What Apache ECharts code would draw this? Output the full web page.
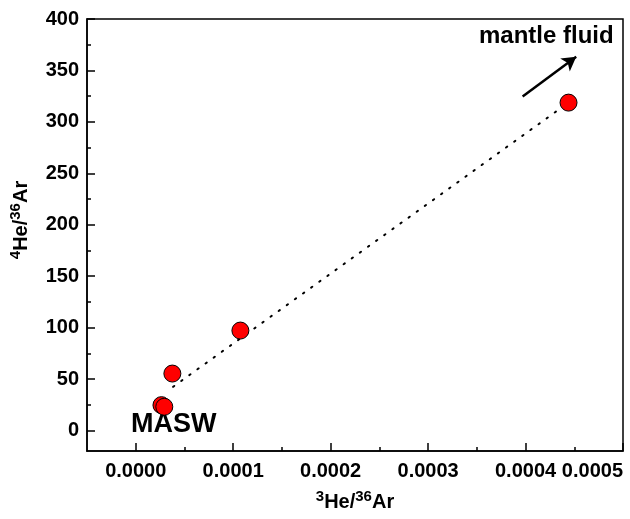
<!DOCTYPE html>
<html>
<head>
<meta charset="utf-8">
<script src="https://cdn.jsdelivr.net/npm/echarts@6/dist/echarts.min.js"></script>
<style>
  html, body { margin: 0; padding: 0; background: #fff; }
  #main { width: 630px; height: 519px; }
</style>
</head>
<body>
<div id="main"></div>
<script>
// 数据
var he3Ar36 = [0.0000264, 0.0000293, 0.0000376, 0.0001074, 0.0004441];
var he4Ar36 = [24.6, 23.0, 55.3, 97.1, 318.7];
// 趋势线端点
var trendX = [0.0000383, 0.0004441];
var trendY = [42.4, 318.7];
// 箭头 (mantle fluid)
var arrowFrom = [0.000397, 324.6];
var arrowTo = [0.000452, 363.4];
// 刻度
var xMajor = [0, 0.0001, 0.0002, 0.0003, 0.0004, 0.0005];
var xMinor = [0.00005, 0.00015, 0.00025, 0.00035, 0.00045];
var yMajor = [0, 50, 100, 150, 200, 250, 300, 350, 400];
var yMinor = [25, 75, 125, 175, 225, 275, 325, 375];

var FONT = '"Liberation Sans", Arial, sans-serif';

var myChart = echarts.init(document.getElementById('main'));

var nameRich = {
  s: { fontSize: 15, fontWeight: 'bold', fontFamily: FONT, color: '#000', padding: [0, 0, 12, 0] },
  n: { fontSize: 20, fontWeight: 'bold', fontFamily: FONT, color: '#000' }
};

function axisBase(min, max) {
  return {
    type: 'value',
    min: min,
    max: max,
    splitLine: { show: false },
    axisLine: { show: true, onZero: false, lineStyle: { color: '#000', width: 1.5 } }
  };
}

var scatterData = he3Ar36.map(function (x, i) { return [x, he4Ar36[i]]; });
var trendData = trendX.map(function (x, i) { return [x, trendY[i]]; });

myChart.setOption({
  animation: false,
  grid: {
    left: 87, right: 7, top: 19, bottom: 68,
    show: true, borderColor: '#000', borderWidth: 1.5
  },
  xAxis: [
    Object.assign(axisBase(-0.00005, 0.0005), {
      name: '{s|3}{n|He/}{s|36}{n|Ar}',
      nameLocation: 'middle',
      nameGap: 38,
      nameTextStyle: { rich: nameRich },
      axisTick: { show: true, inside: true, length: 8, customValues: xMajor, lineStyle: { color: '#000', width: 1.5 } },
      axisLabel: {
        customValues: xMajor,
        alignMaxLabel: 'right',
        margin: 10,
        fontSize: 20, fontWeight: 'bold', fontFamily: FONT, color: '#000',
        formatter: function (v) { return v.toFixed(4); }
      }
    }),
    Object.assign(axisBase(-0.00005, 0.0005), {
      position: 'bottom',
      axisLine: { show: false, onZero: false },
      axisTick: { show: true, inside: true, length: 4, customValues: xMinor, lineStyle: { color: '#000', width: 1.5 } },
      axisLabel: { show: false }
    })
  ],
  yAxis: [
    Object.assign(axisBase(-20, 400), {
      name: '{s|4}{n|He/}{s|36}{n|Ar}',
      nameLocation: 'middle',
      nameGap: 52,
      nameRotate: 90,
      nameTextStyle: { rich: nameRich, padding: [0, 0, 0, 30] },
      axisTick: { show: true, inside: true, length: 8, customValues: yMajor, lineStyle: { color: '#000', width: 1.5 } },
      axisLabel: {
        customValues: yMajor,
        margin: 8,
        fontSize: 20, fontWeight: 'bold', fontFamily: FONT, color: '#000'
      }
    }),
    Object.assign(axisBase(-20, 400), {
      position: 'left',
      axisLine: { show: false, onZero: false },
      axisTick: { show: true, inside: true, length: 4, customValues: yMinor, lineStyle: { color: '#000', width: 1.5 } },
      axisLabel: { show: false }
    })
  ],
  series: [
    {
      type: 'line',
      data: trendData,
      symbol: 'none',
      lineStyle: { color: '#000', width: 2, type: [1.5, 8.5], cap: 'round' },
      markLine: {
        silent: true,
        symbol: ['none', 'arrow'],
        symbolSize: [12, 14],
        label: { show: false },
        lineStyle: { color: '#000', width: 2.5, type: 'solid' },
        data: [[{ coord: arrowFrom }, { coord: arrowTo }]]
      },
      z: 2
    },
    {
      type: 'scatter',
      data: scatterData,
      symbolSize: 17,
      itemStyle: { color: '#ff0000', borderColor: '#000', borderWidth: 1, opacity: 1 },
      z: 3
    }
  ],
  graphic: [
    {
      type: 'text', left: 479, top: 24,
      style: { text: 'mantle fluid', font: 'bold 24px ' + FONT, fill: '#000' }
    },
    {
      type: 'text', left: 131, top: 411,
      style: { text: 'MASW', font: 'bold 27px ' + FONT, fill: '#000' }
    }
  ]
});
</script>
</body>
</html>
